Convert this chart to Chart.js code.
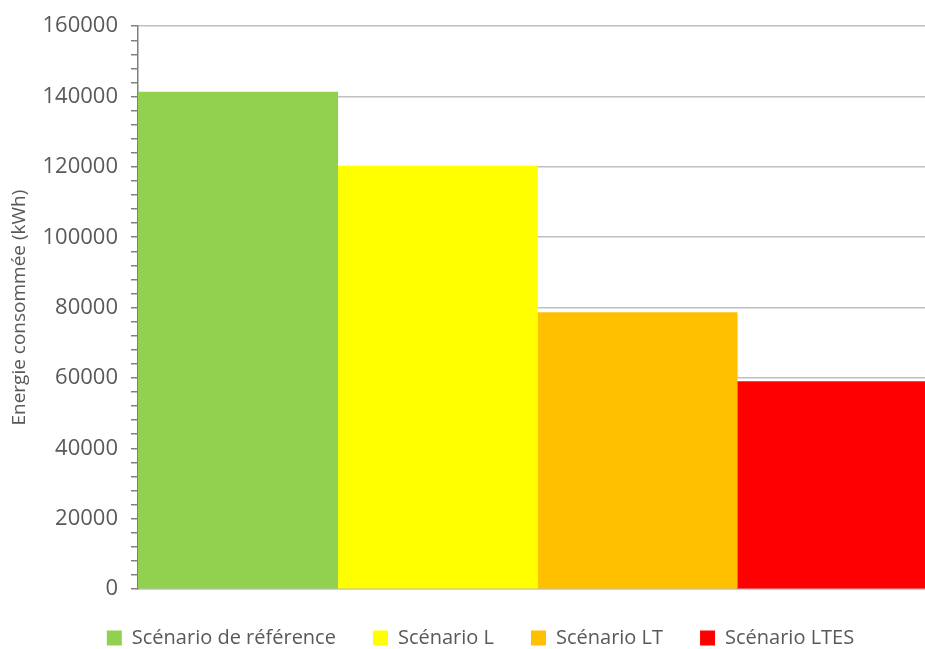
<!DOCTYPE html>
<html>
<head>
<meta charset="utf-8">
<script src="https://cdn.jsdelivr.net/npm/chart.js@4.4.0/dist/chart.umd.min.js"></script>
<style>
  html, body { margin: 0; padding: 0; background: #fff; overflow: hidden; }
  #wrap { width: 937px; height: 658px; }
</style>
</head>
<body>
<div id="wrap"><canvas id="myChart" width="937" height="658"></canvas></div>
<script>
const scenarios = ['Scénario de référence', 'Scénario L', 'Scénario LT', 'Scénario LTES'];
const energie = [141300, 120200, 78600, 59000];
const couleurs = ['#92D050', '#FFFF00', '#FFC000', '#FF0000'];
const yMax = 160000;
const yStep = 4000;
const majorStep = 20000;

const ctx = document.getElementById('myChart').getContext('2d');
const gris = '#595959';

const datasets = scenarios.map((nom, i) => ({
    label: nom,
    data: [energie[i]],
    backgroundColor: couleurs[i],
    borderWidth: 0,
    barPercentage: 1,
    categoryPercentage: 1
}));

new Chart(ctx, {
    type: 'bar',
    data: { labels: [''], datasets: datasets },
    options: {
        responsive: false,
        animation: false,
        layout: { padding: { top: 18, left: 24, right: 0, bottom: 0 } },
        plugins: {
            tooltip: { enabled: false },
            legend: {
                position: 'bottom',
                labels: {
                    color: gris,
                    font: { family: 'Open Sans', size: 20 },
                    boxWidth: 15,
                    boxHeight: 15,
                    padding: 37
                }
            }
        },
        scales: {
            x: {
                grid: { display: false },
                border: { color: '#BFBFBF', width: 1.5 },
                ticks: { display: false },
                afterFit: scale => { scale.height = 2; }
            },
            y: {
                min: 0,
                max: yMax,
                border: { color: '#808080', width: 1.5 },
                grid: {
                    color: c => (c.tick && c.tick.value % majorStep === 0 ? '#C0C0C0' : 'rgba(0,0,0,0)'),
                    lineWidth: 1.5,
                    tickColor: '#808080',
                    tickLength: 7
                },
                ticks: {
                    stepSize: yStep,
                    autoSkip: false,
                    color: gris,
                    padding: 13,
                    font: { family: 'Open Sans', size: 22 },
                    callback: v => (v % majorStep === 0 ? String(v) : '')
                },
                title: {
                    display: true,
                    text: 'Energie consommée (kWh)',
                    color: gris,
                    font: { family: 'Open Sans', size: 19 },
                    padding: { top: -16, bottom: 4 }
                },
                afterFit: scale => { scale.width = 114; }
            }
        }
    }
});
</script>
</body>
</html>
